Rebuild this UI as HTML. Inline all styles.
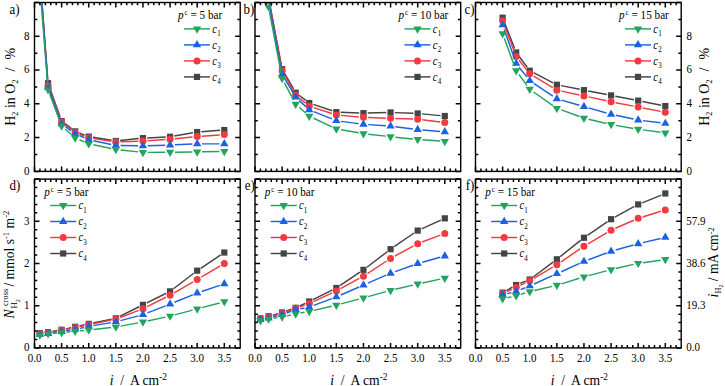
<!DOCTYPE html>
<html><head><meta charset="utf-8"><style>
html,body{margin:0;padding:0;background:#fff;}
body{width:725px;height:386px;overflow:hidden;}
svg{display:block;font-family:"Liberation Serif", serif;}
</style></head><body>
<svg width="725" height="386" viewBox="0 0 725 386">
<rect width="725" height="386" fill="#fff"/>
<clipPath id="c00"><rect x="34.5" y="2.5" width="205.7" height="168.9"/></clipPath>
<g clip-path="url(#c00)">
<path d="M40.25 -20.24L47.73 78.95M49.51 87.28L60.16 117.02M65.04 123.67L71.75 128.77M79.18 132.92L84.72 135.06M92.97 137.29L111.6 140.31M120.12 140.55L138.68 138.58M147.25 137.91L165.78 136.99M174.31 136.04L192.95 132.79M201.48 131.73L220.02 130.34" stroke="#444444" stroke-width="1.45" fill="none"/>
<rect x="36.82" y="-27.62" width="6.2" height="6.2" fill="#444444"/>
<rect x="44.96" y="80.13" width="6.2" height="6.2" fill="#444444"/>
<rect x="58.51" y="117.97" width="6.2" height="6.2" fill="#444444"/>
<rect x="72.07" y="128.27" width="6.2" height="6.2" fill="#444444"/>
<rect x="85.63" y="133.51" width="6.2" height="6.2" fill="#444444"/>
<rect x="112.75" y="137.9" width="6.2" height="6.2" fill="#444444"/>
<rect x="139.86" y="135.03" width="6.2" height="6.2" fill="#444444"/>
<rect x="166.97" y="133.68" width="6.2" height="6.2" fill="#444444"/>
<rect x="194.09" y="128.95" width="6.2" height="6.2" fill="#444444"/>
<rect x="221.2" y="126.92" width="6.2" height="6.2" fill="#444444"/>
<path d="M40.27 -19.84L47.71 80.91M49.69 90L59.98 117.68M65.33 124.95L71.45 129.68M79.54 134.29L84.36 136.22M93.38 138.65L111.2 141.32M120.54 141.84L138.26 141.17M147.65 140.68L165.39 139.46M174.75 138.7L192.51 137.04M201.88 136.26L219.62 134.93" stroke="#f23a40" stroke-width="1.45" fill="none"/>
<circle cx="39.92" cy="-24.52" r="3.5" fill="#f23a40"/>
<circle cx="48.06" cy="85.6" r="3.5" fill="#f23a40"/>
<circle cx="61.61" cy="122.08" r="3.5" fill="#f23a40"/>
<circle cx="75.17" cy="132.55" r="3.5" fill="#f23a40"/>
<circle cx="88.73" cy="137.96" r="3.5" fill="#f23a40"/>
<circle cx="115.84" cy="142.01" r="3.5" fill="#f23a40"/>
<circle cx="142.96" cy="141" r="3.5" fill="#f23a40"/>
<circle cx="170.07" cy="139.14" r="3.5" fill="#f23a40"/>
<circle cx="197.19" cy="136.61" r="3.5" fill="#f23a40"/>
<circle cx="224.3" cy="134.58" r="3.5" fill="#f23a40"/>
<path d="M40.27 -19.24L47.71 82.49M49.72 91.78L59.95 119.43M65.51 126.74L71.28 130.92M79.55 135.69L84.35 137.84M93.43 140.78L111.14 144.42M120.64 145.47L138.16 145.8M147.76 145.74L165.28 145.19M174.87 144.84L192.39 144.07M201.99 143.86L219.5 143.86" stroke="#1a62e2" stroke-width="1.45" fill="none"/>
<polygon points="39.92,-28.82 35.77,-21.62 44.08,-21.62" fill="#1a62e2"/>
<polygon points="48.06,82.48 43.9,89.68 52.21,89.68" fill="#1a62e2"/>
<polygon points="61.61,119.13 57.46,126.33 65.77,126.33" fill="#1a62e2"/>
<polygon points="75.17,128.93 71.02,136.13 79.33,136.13" fill="#1a62e2"/>
<polygon points="88.73,135.01 84.57,142.21 92.89,142.21" fill="#1a62e2"/>
<polygon points="115.84,140.58 111.69,147.78 120,147.78" fill="#1a62e2"/>
<polygon points="142.96,141.09 138.8,148.29 147.12,148.29" fill="#1a62e2"/>
<polygon points="170.07,140.24 165.92,147.44 174.23,147.44" fill="#1a62e2"/>
<polygon points="197.19,139.06 193.03,146.26 201.35,146.26" fill="#1a62e2"/>
<polygon points="224.3,139.06 220.15,146.26 228.46,146.26" fill="#1a62e2"/>
<path d="M40.3 -8.52L47.68 84.94M49.74 94.22L59.93 121.38M65.21 129.05L71.58 134.68M79.57 139.78L84.33 141.86M93.43 144.77L111.15 148.52M120.62 150.02L138.19 151.88M147.76 152.36L165.28 152.25M174.87 152.16L192.39 151.94M201.99 151.79L219.51 151.47" stroke="#22a45e" stroke-width="1.45" fill="none"/>
<polygon points="39.92,-8.5 35.77,-15.7 44.08,-15.7" fill="#22a45e"/>
<polygon points="48.06,94.53 43.9,87.33 52.21,87.33" fill="#22a45e"/>
<polygon points="61.61,130.67 57.46,123.47 65.77,123.47" fill="#22a45e"/>
<polygon points="75.17,142.66 71.02,135.46 79.33,135.46" fill="#22a45e"/>
<polygon points="88.73,148.58 84.57,141.38 92.89,141.38" fill="#22a45e"/>
<polygon points="115.84,154.32 111.69,147.12 120,147.12" fill="#22a45e"/>
<polygon points="142.96,157.19 138.8,149.99 147.12,149.99" fill="#22a45e"/>
<polygon points="170.07,157.02 165.92,149.82 174.23,149.82" fill="#22a45e"/>
<polygon points="197.19,156.68 193.03,149.48 201.35,149.48" fill="#22a45e"/>
<polygon points="224.3,156.18 220.15,148.98 228.46,148.98" fill="#22a45e"/>
</g>
<path d="M34.5 171.4v-5M34.5 2.5v5M39.92 171.4v-2.8M39.92 2.5v2.8M45.35 171.4v-2.8M45.35 2.5v2.8M50.77 171.4v-2.8M50.77 2.5v2.8M56.19 171.4v-2.8M56.19 2.5v2.8M61.61 171.4v-5M61.61 2.5v5M67.04 171.4v-2.8M67.04 2.5v2.8M72.46 171.4v-2.8M72.46 2.5v2.8M77.88 171.4v-2.8M77.88 2.5v2.8M83.31 171.4v-2.8M83.31 2.5v2.8M88.73 171.4v-5M88.73 2.5v5M94.15 171.4v-2.8M94.15 2.5v2.8M99.58 171.4v-2.8M99.58 2.5v2.8M105 171.4v-2.8M105 2.5v2.8M110.42 171.4v-2.8M110.42 2.5v2.8M115.84 171.4v-5M115.84 2.5v5M121.27 171.4v-2.8M121.27 2.5v2.8M126.69 171.4v-2.8M126.69 2.5v2.8M132.11 171.4v-2.8M132.11 2.5v2.8M137.54 171.4v-2.8M137.54 2.5v2.8M142.96 171.4v-5M142.96 2.5v5M148.38 171.4v-2.8M148.38 2.5v2.8M153.81 171.4v-2.8M153.81 2.5v2.8M159.23 171.4v-2.8M159.23 2.5v2.8M164.65 171.4v-2.8M164.65 2.5v2.8M170.07 171.4v-5M170.07 2.5v5M175.5 171.4v-2.8M175.5 2.5v2.8M180.92 171.4v-2.8M180.92 2.5v2.8M186.34 171.4v-2.8M186.34 2.5v2.8M191.77 171.4v-2.8M191.77 2.5v2.8M197.19 171.4v-5M197.19 2.5v5M202.61 171.4v-2.8M202.61 2.5v2.8M208.04 171.4v-2.8M208.04 2.5v2.8M213.46 171.4v-2.8M213.46 2.5v2.8M218.88 171.4v-2.8M218.88 2.5v2.8M224.3 171.4v-5M224.3 2.5v5M229.73 171.4v-2.8M229.73 2.5v2.8M235.15 171.4v-2.8M235.15 2.5v2.8M34.5 171.4h5M240.2 171.4h-5M34.5 154.51h2.8M240.2 154.51h-2.8M34.5 137.62h5M240.2 137.62h-5M34.5 120.73h2.8M240.2 120.73h-2.8M34.5 103.84h5M240.2 103.84h-5M34.5 86.95h2.8M240.2 86.95h-2.8M34.5 70.06h5M240.2 70.06h-5M34.5 53.17h2.8M240.2 53.17h-2.8M34.5 36.28h5M240.2 36.28h-5M34.5 19.39h2.8M240.2 19.39h-2.8M34.5 2.5h5M240.2 2.5h-5" stroke="#000" stroke-width="1.5" fill="none"/>
<rect x="34.5" y="2.5" width="205.7" height="168.9" stroke="#000" stroke-width="1.4" fill="none"/>
<text transform="translate(178 18.9) scale(1 1.12)" font-size="11.2"><tspan font-style="italic">p</tspan><tspan dx="1.0" dy="-3.3" font-size="7">c</tspan><tspan dy="3.3"> = 5 bar</tspan></text>
<path d="M184 28.9h26" stroke="#22a45e" stroke-width="1.45"/>
<polygon points="197,33.7 192.84,26.5 201.16,26.5" fill="#22a45e"/>
<text transform="translate(212.2 32.5) scale(1 1.12)" font-size="10.5"><tspan font-style="italic">c</tspan><tspan dx="0.3" dy="3.1" font-size="7">1</tspan></text>
<path d="M184 44.9h26" stroke="#1a62e2" stroke-width="1.45"/>
<polygon points="197,40.1 192.84,47.3 201.16,47.3" fill="#1a62e2"/>
<text transform="translate(212.2 48.5) scale(1 1.12)" font-size="10.5"><tspan font-style="italic">c</tspan><tspan dx="0.3" dy="3.1" font-size="7">2</tspan></text>
<path d="M184 60.9h26" stroke="#f23a40" stroke-width="1.45"/>
<circle cx="197" cy="60.9" r="3.5" fill="#f23a40"/>
<text transform="translate(212.2 64.5) scale(1 1.12)" font-size="10.5"><tspan font-style="italic">c</tspan><tspan dx="0.3" dy="3.1" font-size="7">3</tspan></text>
<path d="M184 76.9h26" stroke="#444444" stroke-width="1.45"/>
<rect x="193.9" y="73.8" width="6.2" height="6.2" fill="#444444"/>
<text transform="translate(212.2 80.5) scale(1 1.12)" font-size="10.5"><tspan font-style="italic">c</tspan><tspan dx="0.3" dy="3.1" font-size="7">4</tspan></text>
<clipPath id="c01"><rect x="255" y="2.5" width="205.7" height="168.9"/></clipPath>
<g clip-path="url(#c01)">
<path d="M269.36 1.66L281.32 64.99M284.27 72.94L293.52 88.97M299.1 95.29L305.81 100.39M313.31 104.37L332.27 110.75M340.64 112.28L359.16 112.97M367.76 113.02L386.28 112.56M394.87 112.61L413.39 113.31M421.97 113.87L440.52 115.6" stroke="#444444" stroke-width="1.45" fill="none"/>
<rect x="265.46" y="-5.67" width="6.2" height="6.2" fill="#444444"/>
<rect x="279.01" y="66.12" width="6.2" height="6.2" fill="#444444"/>
<rect x="292.57" y="89.59" width="6.2" height="6.2" fill="#444444"/>
<rect x="306.13" y="99.9" width="6.2" height="6.2" fill="#444444"/>
<rect x="333.25" y="109.02" width="6.2" height="6.2" fill="#444444"/>
<rect x="360.36" y="110.03" width="6.2" height="6.2" fill="#444444"/>
<rect x="387.47" y="109.35" width="6.2" height="6.2" fill="#444444"/>
<rect x="414.59" y="110.37" width="6.2" height="6.2" fill="#444444"/>
<rect x="441.7" y="112.9" width="6.2" height="6.2" fill="#444444"/>
<path d="M269.43 3.74L281.24 66.12M284.42 74.83L293.37 90.79M299.28 97.9L305.62 103.19M313.7 107.65L331.87 113.54M341.03 115.4L358.78 116.94M368.16 117.53L385.88 118.19M395.27 118.51L412.99 119.06M422.35 119.79L440.14 122.01" stroke="#f23a40" stroke-width="1.45" fill="none"/>
<circle cx="268.56" cy="-0.88" r="3.5" fill="#f23a40"/>
<circle cx="282.12" cy="70.74" r="3.5" fill="#f23a40"/>
<circle cx="295.67" cy="94.89" r="3.5" fill="#f23a40"/>
<circle cx="309.23" cy="106.2" r="3.5" fill="#f23a40"/>
<circle cx="336.35" cy="114.99" r="3.5" fill="#f23a40"/>
<circle cx="363.46" cy="117.35" r="3.5" fill="#f23a40"/>
<circle cx="390.57" cy="118.37" r="3.5" fill="#f23a40"/>
<circle cx="417.69" cy="119.21" r="3.5" fill="#f23a40"/>
<circle cx="444.8" cy="122.59" r="3.5" fill="#f23a40"/>
<path d="M269.43 6.03L281.24 69.56M284.57 78.4L293.22 92.95M299.16 100.38L305.74 106.61M313.69 111.69L331.89 118.95M341.1 121.35L358.7 123.65M368.25 124.6L385.79 125.8M395.34 126.72L412.93 128.91M422.47 129.92L440.02 131.45" stroke="#1a62e2" stroke-width="1.45" fill="none"/>
<polygon points="268.56,-3.49 264.4,3.71 272.71,3.71" fill="#1a62e2"/>
<polygon points="282.12,69.48 277.96,76.68 286.27,76.68" fill="#1a62e2"/>
<polygon points="295.67,92.28 291.52,99.48 299.83,99.48" fill="#1a62e2"/>
<polygon points="309.23,105.11 305.07,112.31 313.39,112.31" fill="#1a62e2"/>
<polygon points="336.35,115.92 332.19,123.12 340.5,123.12" fill="#1a62e2"/>
<polygon points="363.46,119.47 359.3,126.67 367.62,126.67" fill="#1a62e2"/>
<polygon points="390.57,121.33 386.42,128.53 394.73,128.53" fill="#1a62e2"/>
<polygon points="417.69,124.71 413.53,131.91 421.85,131.91" fill="#1a62e2"/>
<polygon points="444.8,127.07 440.65,134.27 448.96,134.27" fill="#1a62e2"/>
<path d="M269.45 11.68L281.22 73.7M284.36 82.66L293.43 99.84M299.25 107.29L305.66 113.04M313.58 118.28L332 126.88M341.07 129.74L358.73 132.82M368.23 134.18L385.8 136.15M395.35 137.16L412.91 138.91M422.48 139.74L440.02 141.05" stroke="#22a45e" stroke-width="1.45" fill="none"/>
<polygon points="268.56,11.77 264.4,4.57 272.71,4.57" fill="#22a45e"/>
<polygon points="282.12,83.21 277.96,76.01 286.27,76.01" fill="#22a45e"/>
<polygon points="295.67,108.88 291.52,101.68 299.83,101.68" fill="#22a45e"/>
<polygon points="309.23,121.05 305.07,113.85 313.39,113.85" fill="#22a45e"/>
<polygon points="336.35,133.71 332.19,126.51 340.5,126.51" fill="#22a45e"/>
<polygon points="363.46,138.44 359.3,131.24 367.62,131.24" fill="#22a45e"/>
<polygon points="390.57,141.48 386.42,134.28 394.73,134.28" fill="#22a45e"/>
<polygon points="417.69,144.18 413.53,136.98 421.85,136.98" fill="#22a45e"/>
<polygon points="444.8,146.21 440.65,139.01 448.96,139.01" fill="#22a45e"/>
</g>
<path d="M255 171.4v-5M255 2.5v5M260.42 171.4v-2.8M260.42 2.5v2.8M265.85 171.4v-2.8M265.85 2.5v2.8M271.27 171.4v-2.8M271.27 2.5v2.8M276.69 171.4v-2.8M276.69 2.5v2.8M282.12 171.4v-5M282.12 2.5v5M287.54 171.4v-2.8M287.54 2.5v2.8M292.96 171.4v-2.8M292.96 2.5v2.8M298.38 171.4v-2.8M298.38 2.5v2.8M303.81 171.4v-2.8M303.81 2.5v2.8M309.23 171.4v-5M309.23 2.5v5M314.65 171.4v-2.8M314.65 2.5v2.8M320.08 171.4v-2.8M320.08 2.5v2.8M325.5 171.4v-2.8M325.5 2.5v2.8M330.92 171.4v-2.8M330.92 2.5v2.8M336.35 171.4v-5M336.35 2.5v5M341.77 171.4v-2.8M341.77 2.5v2.8M347.19 171.4v-2.8M347.19 2.5v2.8M352.61 171.4v-2.8M352.61 2.5v2.8M358.04 171.4v-2.8M358.04 2.5v2.8M363.46 171.4v-5M363.46 2.5v5M368.88 171.4v-2.8M368.88 2.5v2.8M374.31 171.4v-2.8M374.31 2.5v2.8M379.73 171.4v-2.8M379.73 2.5v2.8M385.15 171.4v-2.8M385.15 2.5v2.8M390.57 171.4v-5M390.57 2.5v5M396 171.4v-2.8M396 2.5v2.8M401.42 171.4v-2.8M401.42 2.5v2.8M406.84 171.4v-2.8M406.84 2.5v2.8M412.27 171.4v-2.8M412.27 2.5v2.8M417.69 171.4v-5M417.69 2.5v5M423.11 171.4v-2.8M423.11 2.5v2.8M428.54 171.4v-2.8M428.54 2.5v2.8M433.96 171.4v-2.8M433.96 2.5v2.8M439.38 171.4v-2.8M439.38 2.5v2.8M444.8 171.4v-5M444.8 2.5v5M450.23 171.4v-2.8M450.23 2.5v2.8M455.65 171.4v-2.8M455.65 2.5v2.8M255 171.4h5M460.7 171.4h-5M255 154.51h2.8M460.7 154.51h-2.8M255 137.62h5M460.7 137.62h-5M255 120.73h2.8M460.7 120.73h-2.8M255 103.84h5M460.7 103.84h-5M255 86.95h2.8M460.7 86.95h-2.8M255 70.06h5M460.7 70.06h-5M255 53.17h2.8M460.7 53.17h-2.8M255 36.28h5M460.7 36.28h-5M255 19.39h2.8M460.7 19.39h-2.8M255 2.5h5M460.7 2.5h-5" stroke="#000" stroke-width="1.5" fill="none"/>
<rect x="255" y="2.5" width="205.7" height="168.9" stroke="#000" stroke-width="1.4" fill="none"/>
<text transform="translate(398.5 18.9) scale(1 1.12)" font-size="11.2"><tspan font-style="italic">p</tspan><tspan dx="1.0" dy="-3.3" font-size="7">c</tspan><tspan dy="3.3"> = 10 bar</tspan></text>
<path d="M404.5 28.9h26" stroke="#22a45e" stroke-width="1.45"/>
<polygon points="417.5,33.7 413.34,26.5 421.66,26.5" fill="#22a45e"/>
<text transform="translate(432.7 32.5) scale(1 1.12)" font-size="10.5"><tspan font-style="italic">c</tspan><tspan dx="0.3" dy="3.1" font-size="7">1</tspan></text>
<path d="M404.5 44.9h26" stroke="#1a62e2" stroke-width="1.45"/>
<polygon points="417.5,40.1 413.34,47.3 421.66,47.3" fill="#1a62e2"/>
<text transform="translate(432.7 48.5) scale(1 1.12)" font-size="10.5"><tspan font-style="italic">c</tspan><tspan dx="0.3" dy="3.1" font-size="7">2</tspan></text>
<path d="M404.5 60.9h26" stroke="#f23a40" stroke-width="1.45"/>
<circle cx="417.5" cy="60.9" r="3.5" fill="#f23a40"/>
<text transform="translate(432.7 64.5) scale(1 1.12)" font-size="10.5"><tspan font-style="italic">c</tspan><tspan dx="0.3" dy="3.1" font-size="7">3</tspan></text>
<path d="M404.5 76.9h26" stroke="#444444" stroke-width="1.45"/>
<rect x="414.4" y="73.8" width="6.2" height="6.2" fill="#444444"/>
<text transform="translate(432.7 80.5) scale(1 1.12)" font-size="10.5"><tspan font-style="italic">c</tspan><tspan dx="0.3" dy="3.1" font-size="7">4</tspan></text>
<clipPath id="c02"><rect x="475.5" y="2.5" width="205.7" height="168.9"/></clipPath>
<g clip-path="url(#c02)">
<path d="M504.18 21.71L514.61 48.49M518.74 55.95L527.16 67.28M533.55 72.71L553.03 82.78M561.06 85.59L579.74 89.32M588.18 90.97L606.85 94.58M615.3 96.21L633.97 99.82M642.41 101.47L661.09 105.2" stroke="#444444" stroke-width="1.45" fill="none"/>
<rect x="499.51" y="14.6" width="6.2" height="6.2" fill="#444444"/>
<rect x="513.07" y="49.39" width="6.2" height="6.2" fill="#444444"/>
<rect x="526.63" y="67.64" width="6.2" height="6.2" fill="#444444"/>
<rect x="553.75" y="81.65" width="6.2" height="6.2" fill="#444444"/>
<rect x="580.86" y="87.06" width="6.2" height="6.2" fill="#444444"/>
<rect x="607.98" y="92.3" width="6.2" height="6.2" fill="#444444"/>
<rect x="635.09" y="97.53" width="6.2" height="6.2" fill="#444444"/>
<rect x="662.2" y="102.94" width="6.2" height="6.2" fill="#444444"/>
<path d="M504.28 25.14L514.51 52.15M519.08 60.24L526.82 70.08M533.75 76.21L552.82 87.73M561.44 91.13L579.36 94.93M588.55 96.9L606.48 100.81M615.69 102.7L633.58 106.16M642.8 107.94L660.69 111.39" stroke="#f23a40" stroke-width="1.45" fill="none"/>
<circle cx="502.62" cy="20.74" r="3.5" fill="#f23a40"/>
<circle cx="516.17" cy="56.55" r="3.5" fill="#f23a40"/>
<circle cx="529.73" cy="73.78" r="3.5" fill="#f23a40"/>
<circle cx="556.85" cy="90.16" r="3.5" fill="#f23a40"/>
<circle cx="583.96" cy="95.9" r="3.5" fill="#f23a40"/>
<circle cx="611.08" cy="101.81" r="3.5" fill="#f23a40"/>
<circle cx="638.19" cy="107.05" r="3.5" fill="#f23a40"/>
<circle cx="665.3" cy="112.29" r="3.5" fill="#f23a40"/>
<path d="M504.21 29.48L514.58 58.94M519.14 67.24L526.76 76.92M533.72 83.36L552.85 96.1M561.46 100.09L579.35 105.21M588.57 107.86L606.46 112.98M615.77 115.3L633.49 119.05M642.95 120.64L660.54 122.83" stroke="#1a62e2" stroke-width="1.45" fill="none"/>
<polygon points="502.62,20.16 498.46,27.36 506.77,27.36" fill="#1a62e2"/>
<polygon points="516.17,58.67 512.02,65.87 520.33,65.87" fill="#1a62e2"/>
<polygon points="529.73,75.89 525.57,83.09 533.89,83.09" fill="#1a62e2"/>
<polygon points="556.85,93.97 552.69,101.17 561,101.17" fill="#1a62e2"/>
<polygon points="583.96,101.74 579.8,108.94 588.12,108.94" fill="#1a62e2"/>
<polygon points="611.08,109.51 606.92,116.71 615.23,116.71" fill="#1a62e2"/>
<polygon points="638.19,115.25 634.03,122.45 642.35,122.45" fill="#1a62e2"/>
<polygon points="665.3,118.63 661.15,125.83 669.46,125.83" fill="#1a62e2"/>
<path d="M504.27 38.16L514.52 66.14M519 74.52L526.9 85.34M533.66 91.98L552.92 105.54M561.36 109.94L579.45 116.47M588.63 119.21L606.4 123.42M615.8 125.35L633.46 128.43M642.95 129.9L660.55 132.31" stroke="#22a45e" stroke-width="1.45" fill="none"/>
<polygon points="502.62,38.45 498.46,31.25 506.77,31.25" fill="#22a45e"/>
<polygon points="516.17,75.44 512.02,68.24 520.33,68.24" fill="#22a45e"/>
<polygon points="529.73,94.02 525.57,86.82 533.89,86.82" fill="#22a45e"/>
<polygon points="556.85,113.11 552.69,105.91 561,105.91" fill="#22a45e"/>
<polygon points="583.96,122.9 579.8,115.7 588.12,115.7" fill="#22a45e"/>
<polygon points="611.08,129.32 606.92,122.12 615.23,122.12" fill="#22a45e"/>
<polygon points="638.19,134.05 634.03,126.85 642.35,126.85" fill="#22a45e"/>
<polygon points="665.3,137.77 661.15,130.57 669.46,130.57" fill="#22a45e"/>
</g>
<path d="M475.5 171.4v-5M475.5 2.5v5M480.92 171.4v-2.8M480.92 2.5v2.8M486.35 171.4v-2.8M486.35 2.5v2.8M491.77 171.4v-2.8M491.77 2.5v2.8M497.19 171.4v-2.8M497.19 2.5v2.8M502.62 171.4v-5M502.62 2.5v5M508.04 171.4v-2.8M508.04 2.5v2.8M513.46 171.4v-2.8M513.46 2.5v2.8M518.88 171.4v-2.8M518.88 2.5v2.8M524.31 171.4v-2.8M524.31 2.5v2.8M529.73 171.4v-5M529.73 2.5v5M535.15 171.4v-2.8M535.15 2.5v2.8M540.58 171.4v-2.8M540.58 2.5v2.8M546 171.4v-2.8M546 2.5v2.8M551.42 171.4v-2.8M551.42 2.5v2.8M556.85 171.4v-5M556.85 2.5v5M562.27 171.4v-2.8M562.27 2.5v2.8M567.69 171.4v-2.8M567.69 2.5v2.8M573.11 171.4v-2.8M573.11 2.5v2.8M578.54 171.4v-2.8M578.54 2.5v2.8M583.96 171.4v-5M583.96 2.5v5M589.38 171.4v-2.8M589.38 2.5v2.8M594.81 171.4v-2.8M594.81 2.5v2.8M600.23 171.4v-2.8M600.23 2.5v2.8M605.65 171.4v-2.8M605.65 2.5v2.8M611.08 171.4v-5M611.08 2.5v5M616.5 171.4v-2.8M616.5 2.5v2.8M621.92 171.4v-2.8M621.92 2.5v2.8M627.34 171.4v-2.8M627.34 2.5v2.8M632.77 171.4v-2.8M632.77 2.5v2.8M638.19 171.4v-5M638.19 2.5v5M643.61 171.4v-2.8M643.61 2.5v2.8M649.04 171.4v-2.8M649.04 2.5v2.8M654.46 171.4v-2.8M654.46 2.5v2.8M659.88 171.4v-2.8M659.88 2.5v2.8M665.3 171.4v-5M665.3 2.5v5M670.73 171.4v-2.8M670.73 2.5v2.8M676.15 171.4v-2.8M676.15 2.5v2.8M475.5 171.4h5M681.2 171.4h-5M475.5 154.51h2.8M681.2 154.51h-2.8M475.5 137.62h5M681.2 137.62h-5M475.5 120.73h2.8M681.2 120.73h-2.8M475.5 103.84h5M681.2 103.84h-5M475.5 86.95h2.8M681.2 86.95h-2.8M475.5 70.06h5M681.2 70.06h-5M475.5 53.17h2.8M681.2 53.17h-2.8M475.5 36.28h5M681.2 36.28h-5M475.5 19.39h2.8M681.2 19.39h-2.8M475.5 2.5h5M681.2 2.5h-5" stroke="#000" stroke-width="1.5" fill="none"/>
<rect x="475.5" y="2.5" width="205.7" height="168.9" stroke="#000" stroke-width="1.4" fill="none"/>
<text transform="translate(619 18.9) scale(1 1.12)" font-size="11.2"><tspan font-style="italic">p</tspan><tspan dx="1.0" dy="-3.3" font-size="7">c</tspan><tspan dy="3.3"> = 15 bar</tspan></text>
<path d="M625 28.9h26" stroke="#22a45e" stroke-width="1.45"/>
<polygon points="638,33.7 633.84,26.5 642.16,26.5" fill="#22a45e"/>
<text transform="translate(653.2 32.5) scale(1 1.12)" font-size="10.5"><tspan font-style="italic">c</tspan><tspan dx="0.3" dy="3.1" font-size="7">1</tspan></text>
<path d="M625 44.9h26" stroke="#1a62e2" stroke-width="1.45"/>
<polygon points="638,40.1 633.84,47.3 642.16,47.3" fill="#1a62e2"/>
<text transform="translate(653.2 48.5) scale(1 1.12)" font-size="10.5"><tspan font-style="italic">c</tspan><tspan dx="0.3" dy="3.1" font-size="7">2</tspan></text>
<path d="M625 60.9h26" stroke="#f23a40" stroke-width="1.45"/>
<circle cx="638" cy="60.9" r="3.5" fill="#f23a40"/>
<text transform="translate(653.2 64.5) scale(1 1.12)" font-size="10.5"><tspan font-style="italic">c</tspan><tspan dx="0.3" dy="3.1" font-size="7">3</tspan></text>
<path d="M625 76.9h26" stroke="#444444" stroke-width="1.45"/>
<rect x="634.9" y="73.8" width="6.2" height="6.2" fill="#444444"/>
<text transform="translate(653.2 80.5) scale(1 1.12)" font-size="10.5"><tspan font-style="italic">c</tspan><tspan dx="0.3" dy="3.1" font-size="7">4</tspan></text>
<clipPath id="c10"><rect x="34.5" y="179.1" width="205.7" height="168.8"/></clipPath>
<g clip-path="url(#c10)">
<path d="M52.28 331.5L57.39 330.54M65.82 328.84L70.97 327.72M79.37 325.88L84.53 324.76M92.94 322.99L111.63 319.21M119.69 316.44L139.11 306.77M146.81 302.94L166.23 293.27M173.49 288.74L193.77 273.28M200.76 268.28L220.73 254.92" stroke="#444444" stroke-width="1.45" fill="none"/>
<rect x="36.82" y="330.03" width="6.2" height="6.2" fill="#444444"/>
<rect x="44.96" y="329.19" width="6.2" height="6.2" fill="#444444"/>
<rect x="58.51" y="326.65" width="6.2" height="6.2" fill="#444444"/>
<rect x="72.07" y="323.7" width="6.2" height="6.2" fill="#444444"/>
<rect x="85.63" y="320.75" width="6.2" height="6.2" fill="#444444"/>
<rect x="112.75" y="315.26" width="6.2" height="6.2" fill="#444444"/>
<rect x="139.86" y="301.76" width="6.2" height="6.2" fill="#444444"/>
<rect x="166.97" y="288.25" width="6.2" height="6.2" fill="#444444"/>
<rect x="194.09" y="267.57" width="6.2" height="6.2" fill="#444444"/>
<rect x="221.2" y="249.43" width="6.2" height="6.2" fill="#444444"/>
<path d="M52.68 331.85L56.99 331.04M66.24 329.31L70.55 328.51M79.76 326.64L84.14 325.69M93.34 323.76L111.24 320.14M120.23 317.5L138.58 310.36M147.17 306.56L165.87 297.25M174.15 292.8L193.12 281.88M201.24 277.14L220.26 265.89" stroke="#f23a40" stroke-width="1.45" fill="none"/>
<circle cx="39.92" cy="333.55" r="3.5" fill="#f23a40"/>
<circle cx="48.06" cy="332.71" r="3.5" fill="#f23a40"/>
<circle cx="61.61" cy="330.18" r="3.5" fill="#f23a40"/>
<circle cx="75.17" cy="327.64" r="3.5" fill="#f23a40"/>
<circle cx="88.73" cy="324.69" r="3.5" fill="#f23a40"/>
<circle cx="115.84" cy="319.2" r="3.5" fill="#f23a40"/>
<circle cx="142.96" cy="308.65" r="3.5" fill="#f23a40"/>
<circle cx="170.07" cy="295.15" r="3.5" fill="#f23a40"/>
<circle cx="197.19" cy="279.54" r="3.5" fill="#f23a40"/>
<circle cx="224.3" cy="263.5" r="3.5" fill="#f23a40"/>
<path d="M52.8 332.89L56.87 332.26M66.36 330.78L70.43 330.15M79.86 328.39L84.04 327.48M93.46 325.65L111.11 322.62M120.49 320.59L138.32 315.87M147.43 312.9L165.6 305.83M174.52 302.29L192.74 294.92M201.73 291.56L219.76 285.39" stroke="#1a62e2" stroke-width="1.45" fill="none"/>
<polygon points="39.92,329.67 35.77,336.87 44.08,336.87" fill="#1a62e2"/>
<polygon points="48.06,328.83 43.9,336.03 52.21,336.03" fill="#1a62e2"/>
<polygon points="61.61,326.72 57.46,333.92 65.77,333.92" fill="#1a62e2"/>
<polygon points="75.17,324.61 71.02,331.81 79.33,331.81" fill="#1a62e2"/>
<polygon points="88.73,321.66 84.57,328.86 92.89,328.86" fill="#1a62e2"/>
<polygon points="115.84,317.01 111.69,324.21 120,324.21" fill="#1a62e2"/>
<polygon points="142.96,309.84 138.8,317.04 147.12,317.04" fill="#1a62e2"/>
<polygon points="170.07,299.29 165.92,306.49 174.23,306.49" fill="#1a62e2"/>
<polygon points="197.19,288.32 193.03,295.52 201.35,295.52" fill="#1a62e2"/>
<polygon points="224.3,279.03 220.15,286.23 228.46,286.23" fill="#1a62e2"/>
<path d="M52.84 333.35L56.84 332.98M66.39 332.08L70.39 331.71M79.95 330.82L83.95 330.44M93.5 329.48L111.07 327.56M120.56 326.16L138.24 322.86M147.65 320.96L165.39 317.09M174.72 314.84L192.55 310.13M201.83 307.67L219.66 302.95" stroke="#22a45e" stroke-width="1.45" fill="none"/>
<polygon points="39.92,339.86 35.77,332.66 44.08,332.66" fill="#22a45e"/>
<polygon points="48.06,338.6 43.9,331.4 52.21,331.4" fill="#22a45e"/>
<polygon points="61.61,337.33 57.46,330.13 65.77,330.13" fill="#22a45e"/>
<polygon points="75.17,336.06 71.02,328.86 79.33,328.86" fill="#22a45e"/>
<polygon points="88.73,334.8 84.57,327.6 92.89,327.6" fill="#22a45e"/>
<polygon points="115.84,331.84 111.69,324.64 120,324.64" fill="#22a45e"/>
<polygon points="142.96,326.78 138.8,319.58 147.12,319.58" fill="#22a45e"/>
<polygon points="170.07,320.87 165.92,313.67 174.23,313.67" fill="#22a45e"/>
<polygon points="197.19,313.7 193.03,306.5 201.35,306.5" fill="#22a45e"/>
<polygon points="224.3,306.52 220.15,299.32 228.46,299.32" fill="#22a45e"/>
</g>
<path d="M34.5 347.9v-5M34.5 179.1v5M39.92 347.9v-2.8M39.92 179.1v2.8M45.35 347.9v-2.8M45.35 179.1v2.8M50.77 347.9v-2.8M50.77 179.1v2.8M56.19 347.9v-2.8M56.19 179.1v2.8M61.61 347.9v-5M61.61 179.1v5M67.04 347.9v-2.8M67.04 179.1v2.8M72.46 347.9v-2.8M72.46 179.1v2.8M77.88 347.9v-2.8M77.88 179.1v2.8M83.31 347.9v-2.8M83.31 179.1v2.8M88.73 347.9v-5M88.73 179.1v5M94.15 347.9v-2.8M94.15 179.1v2.8M99.58 347.9v-2.8M99.58 179.1v2.8M105 347.9v-2.8M105 179.1v2.8M110.42 347.9v-2.8M110.42 179.1v2.8M115.84 347.9v-5M115.84 179.1v5M121.27 347.9v-2.8M121.27 179.1v2.8M126.69 347.9v-2.8M126.69 179.1v2.8M132.11 347.9v-2.8M132.11 179.1v2.8M137.54 347.9v-2.8M137.54 179.1v2.8M142.96 347.9v-5M142.96 179.1v5M148.38 347.9v-2.8M148.38 179.1v2.8M153.81 347.9v-2.8M153.81 179.1v2.8M159.23 347.9v-2.8M159.23 179.1v2.8M164.65 347.9v-2.8M164.65 179.1v2.8M170.07 347.9v-5M170.07 179.1v5M175.5 347.9v-2.8M175.5 179.1v2.8M180.92 347.9v-2.8M180.92 179.1v2.8M186.34 347.9v-2.8M186.34 179.1v2.8M191.77 347.9v-2.8M191.77 179.1v2.8M197.19 347.9v-5M197.19 179.1v5M202.61 347.9v-2.8M202.61 179.1v2.8M208.04 347.9v-2.8M208.04 179.1v2.8M213.46 347.9v-2.8M213.46 179.1v2.8M218.88 347.9v-2.8M218.88 179.1v2.8M224.3 347.9v-5M224.3 179.1v5M229.73 347.9v-2.8M229.73 179.1v2.8M235.15 347.9v-2.8M235.15 179.1v2.8M34.5 347.9h5M240.2 347.9h-5M34.5 339.46h2.8M240.2 339.46h-2.8M34.5 331.02h2.8M240.2 331.02h-2.8M34.5 322.58h2.8M240.2 322.58h-2.8M34.5 314.14h2.8M240.2 314.14h-2.8M34.5 305.7h5M240.2 305.7h-5M34.5 297.26h2.8M240.2 297.26h-2.8M34.5 288.82h2.8M240.2 288.82h-2.8M34.5 280.38h2.8M240.2 280.38h-2.8M34.5 271.94h2.8M240.2 271.94h-2.8M34.5 263.5h5M240.2 263.5h-5M34.5 255.06h2.8M240.2 255.06h-2.8M34.5 246.62h2.8M240.2 246.62h-2.8M34.5 238.18h2.8M240.2 238.18h-2.8M34.5 229.74h2.8M240.2 229.74h-2.8M34.5 221.3h5M240.2 221.3h-5M34.5 212.86h2.8M240.2 212.86h-2.8M34.5 204.42h2.8M240.2 204.42h-2.8M34.5 195.98h2.8M240.2 195.98h-2.8M34.5 187.54h2.8M240.2 187.54h-2.8M34.5 179.1h5M240.2 179.1h-5" stroke="#000" stroke-width="1.5" fill="none"/>
<rect x="34.5" y="179.1" width="205.7" height="168.8" stroke="#000" stroke-width="1.4" fill="none"/>
<text transform="translate(44.2 195.5) scale(1 1.12)" font-size="11.2"><tspan font-style="italic">p</tspan><tspan dx="1.0" dy="-3.3" font-size="7">c</tspan><tspan dy="3.3"> = 5 bar</tspan></text>
<path d="M50.2 205.5h26" stroke="#22a45e" stroke-width="1.45"/>
<polygon points="63.2,210.3 59.04,203.1 67.36,203.1" fill="#22a45e"/>
<text transform="translate(78.4 209.1) scale(1 1.12)" font-size="10.5"><tspan font-style="italic">c</tspan><tspan dx="0.3" dy="3.1" font-size="7">1</tspan></text>
<path d="M50.2 221.5h26" stroke="#1a62e2" stroke-width="1.45"/>
<polygon points="63.2,216.7 59.04,223.9 67.36,223.9" fill="#1a62e2"/>
<text transform="translate(78.4 225.1) scale(1 1.12)" font-size="10.5"><tspan font-style="italic">c</tspan><tspan dx="0.3" dy="3.1" font-size="7">2</tspan></text>
<path d="M50.2 237.5h26" stroke="#f23a40" stroke-width="1.45"/>
<circle cx="63.2" cy="237.5" r="3.5" fill="#f23a40"/>
<text transform="translate(78.4 241.1) scale(1 1.12)" font-size="10.5"><tspan font-style="italic">c</tspan><tspan dx="0.3" dy="3.1" font-size="7">3</tspan></text>
<path d="M50.2 253.5h26" stroke="#444444" stroke-width="1.45"/>
<rect x="60.1" y="250.4" width="6.2" height="6.2" fill="#444444"/>
<text transform="translate(78.4 257.1) scale(1 1.12)" font-size="10.5"><tspan font-style="italic">c</tspan><tspan dx="0.3" dy="3.1" font-size="7">4</tspan></text>
<clipPath id="c11"><rect x="255" y="179.1" width="205.7" height="168.8"/></clipPath>
<g clip-path="url(#c11)">
<path d="M272.7 315.09L277.97 313.61M286.18 311.06L291.6 309.2M299.57 305.99L305.33 303.3M313.08 299.56L332.5 289.89M339.92 285.58L359.89 272.22M366.88 267.22L387.16 251.76M394.12 246.72L414.14 233.01M421.61 228.82L440.89 220.11" stroke="#444444" stroke-width="1.45" fill="none"/>
<rect x="257.32" y="315.26" width="6.2" height="6.2" fill="#444444"/>
<rect x="265.46" y="313.15" width="6.2" height="6.2" fill="#444444"/>
<rect x="279.01" y="309.35" width="6.2" height="6.2" fill="#444444"/>
<rect x="292.57" y="304.71" width="6.2" height="6.2" fill="#444444"/>
<rect x="306.13" y="298.38" width="6.2" height="6.2" fill="#444444"/>
<rect x="333.25" y="284.88" width="6.2" height="6.2" fill="#444444"/>
<rect x="360.36" y="266.73" width="6.2" height="6.2" fill="#444444"/>
<rect x="387.47" y="246.05" width="6.2" height="6.2" fill="#444444"/>
<rect x="414.59" y="227.48" width="6.2" height="6.2" fill="#444444"/>
<rect x="441.7" y="215.25" width="6.2" height="6.2" fill="#444444"/>
<path d="M273.12 315.54L277.55 314.43M286.52 311.65L291.27 309.88M300.12 306.71L304.78 305.11M313.49 301.6L332.09 292.92M340.47 288.68L359.33 278.41M367.39 273.59L386.64 261.01M394.7 256.19L413.56 245.91M422.09 242.02L440.4 235.18" stroke="#f23a40" stroke-width="1.45" fill="none"/>
<circle cx="260.42" cy="318.78" r="3.5" fill="#f23a40"/>
<circle cx="268.56" cy="316.67" r="3.5" fill="#f23a40"/>
<circle cx="282.12" cy="313.3" r="3.5" fill="#f23a40"/>
<circle cx="295.67" cy="308.23" r="3.5" fill="#f23a40"/>
<circle cx="309.23" cy="303.59" r="3.5" fill="#f23a40"/>
<circle cx="336.35" cy="290.93" r="3.5" fill="#f23a40"/>
<circle cx="363.46" cy="276.16" r="3.5" fill="#f23a40"/>
<circle cx="390.57" cy="258.44" r="3.5" fill="#f23a40"/>
<circle cx="417.69" cy="243.67" r="3.5" fill="#f23a40"/>
<circle cx="444.8" cy="233.54" r="3.5" fill="#f23a40"/>
<path d="M273.22 316.86L277.46 315.8M286.61 312.96L291.18 311.26M300.39 308.69L304.51 307.93M313.73 305.36L331.85 298.6M340.75 295L359.06 287.02M367.86 283.18L386.17 275.2M395.09 271.67L413.17 265.2M422.31 262.28L440.18 257.28" stroke="#1a62e2" stroke-width="1.45" fill="none"/>
<polygon points="260.42,314.9 256.27,322.1 264.58,322.1" fill="#1a62e2"/>
<polygon points="268.56,313.22 264.4,320.42 272.71,320.42" fill="#1a62e2"/>
<polygon points="282.12,309.84 277.96,317.04 286.27,317.04" fill="#1a62e2"/>
<polygon points="295.67,304.78 291.52,311.98 299.83,311.98" fill="#1a62e2"/>
<polygon points="309.23,302.24 305.07,309.44 313.39,309.44" fill="#1a62e2"/>
<polygon points="336.35,292.12 332.19,299.32 340.5,299.32" fill="#1a62e2"/>
<polygon points="363.46,280.3 359.3,287.5 367.62,287.5" fill="#1a62e2"/>
<polygon points="390.57,268.48 386.42,275.68 394.73,275.68" fill="#1a62e2"/>
<polygon points="417.69,258.78 413.53,265.98 421.85,265.98" fill="#1a62e2"/>
<polygon points="444.8,251.18 440.65,258.38 448.96,258.38" fill="#1a62e2"/>
<path d="M273.3 318.29L277.37 317.65M286.8 315.89L290.98 314.98M300.39 313.08L304.51 312.31M313.9 310.34L331.67 306.19M340.99 303.87L358.82 299.15M368.08 296.63L385.95 291.62M395.25 289.24L413.02 285.09M422.38 282.98L440.12 279.11" stroke="#22a45e" stroke-width="1.45" fill="none"/>
<polygon points="260.42,325.51 256.27,318.31 264.58,318.31" fill="#22a45e"/>
<polygon points="268.56,323.83 264.4,316.63 272.71,316.63" fill="#22a45e"/>
<polygon points="282.12,321.72 277.96,314.52 286.27,314.52" fill="#22a45e"/>
<polygon points="295.67,318.76 291.52,311.56 299.83,311.56" fill="#22a45e"/>
<polygon points="309.23,316.23 305.07,309.03 313.39,309.03" fill="#22a45e"/>
<polygon points="336.35,309.9 332.19,302.7 340.5,302.7" fill="#22a45e"/>
<polygon points="363.46,302.73 359.3,295.53 367.62,295.53" fill="#22a45e"/>
<polygon points="390.57,295.13 386.42,287.93 394.73,287.93" fill="#22a45e"/>
<polygon points="417.69,288.8 413.53,281.6 421.85,281.6" fill="#22a45e"/>
<polygon points="444.8,282.89 440.65,275.69 448.96,275.69" fill="#22a45e"/>
</g>
<path d="M255 347.9v-5M255 179.1v5M260.42 347.9v-2.8M260.42 179.1v2.8M265.85 347.9v-2.8M265.85 179.1v2.8M271.27 347.9v-2.8M271.27 179.1v2.8M276.69 347.9v-2.8M276.69 179.1v2.8M282.12 347.9v-5M282.12 179.1v5M287.54 347.9v-2.8M287.54 179.1v2.8M292.96 347.9v-2.8M292.96 179.1v2.8M298.38 347.9v-2.8M298.38 179.1v2.8M303.81 347.9v-2.8M303.81 179.1v2.8M309.23 347.9v-5M309.23 179.1v5M314.65 347.9v-2.8M314.65 179.1v2.8M320.08 347.9v-2.8M320.08 179.1v2.8M325.5 347.9v-2.8M325.5 179.1v2.8M330.92 347.9v-2.8M330.92 179.1v2.8M336.35 347.9v-5M336.35 179.1v5M341.77 347.9v-2.8M341.77 179.1v2.8M347.19 347.9v-2.8M347.19 179.1v2.8M352.61 347.9v-2.8M352.61 179.1v2.8M358.04 347.9v-2.8M358.04 179.1v2.8M363.46 347.9v-5M363.46 179.1v5M368.88 347.9v-2.8M368.88 179.1v2.8M374.31 347.9v-2.8M374.31 179.1v2.8M379.73 347.9v-2.8M379.73 179.1v2.8M385.15 347.9v-2.8M385.15 179.1v2.8M390.57 347.9v-5M390.57 179.1v5M396 347.9v-2.8M396 179.1v2.8M401.42 347.9v-2.8M401.42 179.1v2.8M406.84 347.9v-2.8M406.84 179.1v2.8M412.27 347.9v-2.8M412.27 179.1v2.8M417.69 347.9v-5M417.69 179.1v5M423.11 347.9v-2.8M423.11 179.1v2.8M428.54 347.9v-2.8M428.54 179.1v2.8M433.96 347.9v-2.8M433.96 179.1v2.8M439.38 347.9v-2.8M439.38 179.1v2.8M444.8 347.9v-5M444.8 179.1v5M450.23 347.9v-2.8M450.23 179.1v2.8M455.65 347.9v-2.8M455.65 179.1v2.8M255 347.9h5M460.7 347.9h-5M255 339.46h2.8M460.7 339.46h-2.8M255 331.02h2.8M460.7 331.02h-2.8M255 322.58h2.8M460.7 322.58h-2.8M255 314.14h2.8M460.7 314.14h-2.8M255 305.7h5M460.7 305.7h-5M255 297.26h2.8M460.7 297.26h-2.8M255 288.82h2.8M460.7 288.82h-2.8M255 280.38h2.8M460.7 280.38h-2.8M255 271.94h2.8M460.7 271.94h-2.8M255 263.5h5M460.7 263.5h-5M255 255.06h2.8M460.7 255.06h-2.8M255 246.62h2.8M460.7 246.62h-2.8M255 238.18h2.8M460.7 238.18h-2.8M255 229.74h2.8M460.7 229.74h-2.8M255 221.3h5M460.7 221.3h-5M255 212.86h2.8M460.7 212.86h-2.8M255 204.42h2.8M460.7 204.42h-2.8M255 195.98h2.8M460.7 195.98h-2.8M255 187.54h2.8M460.7 187.54h-2.8M255 179.1h5M460.7 179.1h-5" stroke="#000" stroke-width="1.5" fill="none"/>
<rect x="255" y="179.1" width="205.7" height="168.8" stroke="#000" stroke-width="1.4" fill="none"/>
<text transform="translate(264.7 195.5) scale(1 1.12)" font-size="11.2"><tspan font-style="italic">p</tspan><tspan dx="1.0" dy="-3.3" font-size="7">c</tspan><tspan dy="3.3"> = 10 bar</tspan></text>
<path d="M270.7 205.5h26" stroke="#22a45e" stroke-width="1.45"/>
<polygon points="283.7,210.3 279.54,203.1 287.86,203.1" fill="#22a45e"/>
<text transform="translate(298.9 209.1) scale(1 1.12)" font-size="10.5"><tspan font-style="italic">c</tspan><tspan dx="0.3" dy="3.1" font-size="7">1</tspan></text>
<path d="M270.7 221.5h26" stroke="#1a62e2" stroke-width="1.45"/>
<polygon points="283.7,216.7 279.54,223.9 287.86,223.9" fill="#1a62e2"/>
<text transform="translate(298.9 225.1) scale(1 1.12)" font-size="10.5"><tspan font-style="italic">c</tspan><tspan dx="0.3" dy="3.1" font-size="7">2</tspan></text>
<path d="M270.7 237.5h26" stroke="#f23a40" stroke-width="1.45"/>
<circle cx="283.7" cy="237.5" r="3.5" fill="#f23a40"/>
<text transform="translate(298.9 241.1) scale(1 1.12)" font-size="10.5"><tspan font-style="italic">c</tspan><tspan dx="0.3" dy="3.1" font-size="7">3</tspan></text>
<path d="M270.7 253.5h26" stroke="#444444" stroke-width="1.45"/>
<rect x="280.6" y="250.4" width="6.2" height="6.2" fill="#444444"/>
<text transform="translate(298.9 257.1) scale(1 1.12)" font-size="10.5"><tspan font-style="italic">c</tspan><tspan dx="0.3" dy="3.1" font-size="7">4</tspan></text>
<clipPath id="c12"><rect x="475.5" y="179.1" width="205.7" height="168.8"/></clipPath>
<g clip-path="url(#c12)">
<path d="M506.37 290.52L512.42 287.12M520.16 283.41L525.74 281.15M533.17 276.96L553.4 261.85M560.21 256.61L580.59 240.43M587.51 235.33L607.53 221.62M614.85 217.13L634.41 206.48M642.18 202.81L661.32 195.06" stroke="#444444" stroke-width="1.45" fill="none"/>
<rect x="499.51" y="289.52" width="6.2" height="6.2" fill="#444444"/>
<rect x="513.07" y="281.92" width="6.2" height="6.2" fill="#444444"/>
<rect x="526.63" y="276.44" width="6.2" height="6.2" fill="#444444"/>
<rect x="553.75" y="256.18" width="6.2" height="6.2" fill="#444444"/>
<rect x="580.86" y="234.66" width="6.2" height="6.2" fill="#444444"/>
<rect x="607.98" y="216.09" width="6.2" height="6.2" fill="#444444"/>
<rect x="635.09" y="201.32" width="6.2" height="6.2" fill="#444444"/>
<rect x="662.2" y="190.35" width="6.2" height="6.2" fill="#444444"/>
<path d="M506.92 291.58L511.86 289.43M520.38 285.46L525.52 282.9M533.78 278.41L552.8 267.16M560.72 262.11L580.08 248.85M588.01 243.81L607.03 232.55M615.38 228.28L633.88 220.22M642.68 216.95L660.82 211.3" stroke="#f23a40" stroke-width="1.45" fill="none"/>
<circle cx="502.62" cy="293.46" r="3.5" fill="#f23a40"/>
<circle cx="516.17" cy="287.55" r="3.5" fill="#f23a40"/>
<circle cx="529.73" cy="280.8" r="3.5" fill="#f23a40"/>
<circle cx="556.85" cy="264.77" r="3.5" fill="#f23a40"/>
<circle cx="583.96" cy="246.2" r="3.5" fill="#f23a40"/>
<circle cx="611.08" cy="230.16" r="3.5" fill="#f23a40"/>
<circle cx="638.19" cy="218.35" r="3.5" fill="#f23a40"/>
<circle cx="665.3" cy="209.91" r="3.5" fill="#f23a40"/>
<path d="M507.27 293.65L511.51 292.59M520.62 289.63L525.28 287.74M534.11 283.97L552.47 275.68M561.22 271.73L579.58 263.44M588.46 259.79L606.58 253.02M615.7 250.05L633.57 245.04M642.86 242.65L660.63 238.51" stroke="#1a62e2" stroke-width="1.45" fill="none"/>
<polygon points="502.62,290.01 498.46,297.21 506.77,297.21" fill="#1a62e2"/>
<polygon points="516.17,286.63 512.02,293.83 520.33,293.83" fill="#1a62e2"/>
<polygon points="529.73,281.14 525.57,288.34 533.89,288.34" fill="#1a62e2"/>
<polygon points="556.85,268.91 552.69,276.11 561,276.11" fill="#1a62e2"/>
<polygon points="583.96,256.67 579.8,263.87 588.12,263.87" fill="#1a62e2"/>
<polygon points="611.08,246.54 606.92,253.74 615.23,253.74" fill="#1a62e2"/>
<polygon points="638.19,238.94 634.03,246.14 642.35,246.14" fill="#1a62e2"/>
<polygon points="665.3,232.61 661.15,239.81 669.46,239.81" fill="#1a62e2"/>
<path d="M507.3 297.75L511.48 296.84M520.76 294.39L525.15 293.02M534.4 290.5L552.17 286.36M561.43 283.84L579.38 278.25M588.6 275.6L606.43 270.88M615.75 268.56L633.52 264.41M642.94 262.66L660.55 260.19" stroke="#22a45e" stroke-width="1.45" fill="none"/>
<polygon points="502.62,303.57 498.46,296.37 506.77,296.37" fill="#22a45e"/>
<polygon points="516.17,300.62 512.02,293.42 520.33,293.42" fill="#22a45e"/>
<polygon points="529.73,296.4 525.57,289.2 533.89,289.2" fill="#22a45e"/>
<polygon points="556.85,290.07 552.69,282.87 561,282.87" fill="#22a45e"/>
<polygon points="583.96,281.63 579.8,274.43 588.12,274.43" fill="#22a45e"/>
<polygon points="611.08,274.45 606.92,267.25 615.23,267.25" fill="#22a45e"/>
<polygon points="638.19,268.12 634.03,260.92 642.35,260.92" fill="#22a45e"/>
<polygon points="665.3,264.32 661.15,257.12 669.46,257.12" fill="#22a45e"/>
</g>
<path d="M475.5 347.9v-5M475.5 179.1v5M480.92 347.9v-2.8M480.92 179.1v2.8M486.35 347.9v-2.8M486.35 179.1v2.8M491.77 347.9v-2.8M491.77 179.1v2.8M497.19 347.9v-2.8M497.19 179.1v2.8M502.62 347.9v-5M502.62 179.1v5M508.04 347.9v-2.8M508.04 179.1v2.8M513.46 347.9v-2.8M513.46 179.1v2.8M518.88 347.9v-2.8M518.88 179.1v2.8M524.31 347.9v-2.8M524.31 179.1v2.8M529.73 347.9v-5M529.73 179.1v5M535.15 347.9v-2.8M535.15 179.1v2.8M540.58 347.9v-2.8M540.58 179.1v2.8M546 347.9v-2.8M546 179.1v2.8M551.42 347.9v-2.8M551.42 179.1v2.8M556.85 347.9v-5M556.85 179.1v5M562.27 347.9v-2.8M562.27 179.1v2.8M567.69 347.9v-2.8M567.69 179.1v2.8M573.11 347.9v-2.8M573.11 179.1v2.8M578.54 347.9v-2.8M578.54 179.1v2.8M583.96 347.9v-5M583.96 179.1v5M589.38 347.9v-2.8M589.38 179.1v2.8M594.81 347.9v-2.8M594.81 179.1v2.8M600.23 347.9v-2.8M600.23 179.1v2.8M605.65 347.9v-2.8M605.65 179.1v2.8M611.08 347.9v-5M611.08 179.1v5M616.5 347.9v-2.8M616.5 179.1v2.8M621.92 347.9v-2.8M621.92 179.1v2.8M627.34 347.9v-2.8M627.34 179.1v2.8M632.77 347.9v-2.8M632.77 179.1v2.8M638.19 347.9v-5M638.19 179.1v5M643.61 347.9v-2.8M643.61 179.1v2.8M649.04 347.9v-2.8M649.04 179.1v2.8M654.46 347.9v-2.8M654.46 179.1v2.8M659.88 347.9v-2.8M659.88 179.1v2.8M665.3 347.9v-5M665.3 179.1v5M670.73 347.9v-2.8M670.73 179.1v2.8M676.15 347.9v-2.8M676.15 179.1v2.8M475.5 347.9h5M681.2 347.9h-5M475.5 339.46h2.8M681.2 339.46h-2.8M475.5 331.02h2.8M681.2 331.02h-2.8M475.5 322.58h2.8M681.2 322.58h-2.8M475.5 314.14h2.8M681.2 314.14h-2.8M475.5 305.7h5M681.2 305.7h-5M475.5 297.26h2.8M681.2 297.26h-2.8M475.5 288.82h2.8M681.2 288.82h-2.8M475.5 280.38h2.8M681.2 280.38h-2.8M475.5 271.94h2.8M681.2 271.94h-2.8M475.5 263.5h5M681.2 263.5h-5M475.5 255.06h2.8M681.2 255.06h-2.8M475.5 246.62h2.8M681.2 246.62h-2.8M475.5 238.18h2.8M681.2 238.18h-2.8M475.5 229.74h2.8M681.2 229.74h-2.8M475.5 221.3h5M681.2 221.3h-5M475.5 212.86h2.8M681.2 212.86h-2.8M475.5 204.42h2.8M681.2 204.42h-2.8M475.5 195.98h2.8M681.2 195.98h-2.8M475.5 187.54h2.8M681.2 187.54h-2.8M475.5 179.1h5M681.2 179.1h-5" stroke="#000" stroke-width="1.5" fill="none"/>
<rect x="475.5" y="179.1" width="205.7" height="168.8" stroke="#000" stroke-width="1.4" fill="none"/>
<text transform="translate(485.2 195.5) scale(1 1.12)" font-size="11.2"><tspan font-style="italic">p</tspan><tspan dx="1.0" dy="-3.3" font-size="7">c</tspan><tspan dy="3.3"> = 15 bar</tspan></text>
<path d="M491.2 205.5h26" stroke="#22a45e" stroke-width="1.45"/>
<polygon points="504.2,210.3 500.04,203.1 508.36,203.1" fill="#22a45e"/>
<text transform="translate(519.4 209.1) scale(1 1.12)" font-size="10.5"><tspan font-style="italic">c</tspan><tspan dx="0.3" dy="3.1" font-size="7">1</tspan></text>
<path d="M491.2 221.5h26" stroke="#1a62e2" stroke-width="1.45"/>
<polygon points="504.2,216.7 500.04,223.9 508.36,223.9" fill="#1a62e2"/>
<text transform="translate(519.4 225.1) scale(1 1.12)" font-size="10.5"><tspan font-style="italic">c</tspan><tspan dx="0.3" dy="3.1" font-size="7">2</tspan></text>
<path d="M491.2 237.5h26" stroke="#f23a40" stroke-width="1.45"/>
<circle cx="504.2" cy="237.5" r="3.5" fill="#f23a40"/>
<text transform="translate(519.4 241.1) scale(1 1.12)" font-size="10.5"><tspan font-style="italic">c</tspan><tspan dx="0.3" dy="3.1" font-size="7">3</tspan></text>
<path d="M491.2 253.5h26" stroke="#444444" stroke-width="1.45"/>
<rect x="501.1" y="250.4" width="6.2" height="6.2" fill="#444444"/>
<text transform="translate(519.4 257.1) scale(1 1.12)" font-size="10.5"><tspan font-style="italic">c</tspan><tspan dx="0.3" dy="3.1" font-size="7">4</tspan></text>
<g font-size="11"><text transform="translate(29.5 174.8) scale(1 1.12)" text-anchor="end">0</text>
<text transform="translate(29.5 141.02) scale(1 1.12)" text-anchor="end">2</text>
<text transform="translate(29.5 107.24) scale(1 1.12)" text-anchor="end">4</text>
<text transform="translate(29.5 73.46) scale(1 1.12)" text-anchor="end">6</text>
<text transform="translate(29.5 39.68) scale(1 1.12)" text-anchor="end">8</text>
<text transform="translate(686.4 174.8) scale(1 1.12)">0</text>
<text transform="translate(686.4 141.02) scale(1 1.12)">2</text>
<text transform="translate(686.4 107.24) scale(1 1.12)">4</text>
<text transform="translate(686.4 73.46) scale(1 1.12)">6</text>
<text transform="translate(686.4 39.68) scale(1 1.12)">8</text>
<text transform="translate(29.5 351.3) scale(1 1.12)" text-anchor="end">0</text>
<text transform="translate(29.5 309.1) scale(1 1.12)" text-anchor="end">1</text>
<text transform="translate(29.5 266.9) scale(1 1.12)" text-anchor="end">2</text>
<text transform="translate(29.5 224.7) scale(1 1.12)" text-anchor="end">3</text>
<text transform="translate(686.2 351.3) scale(1 1.12)">0.0</text>
<text transform="translate(686.2 309.1) scale(1 1.12)">19.3</text>
<text transform="translate(686.2 266.9) scale(1 1.12)">38.6</text>
<text transform="translate(686.2 224.7) scale(1 1.12)">57.9</text>
<text transform="translate(34.5 362) scale(1 1.12)" text-anchor="middle">0.0</text>
<text transform="translate(61.61 362) scale(1 1.12)" text-anchor="middle">0.5</text>
<text transform="translate(88.73 362) scale(1 1.12)" text-anchor="middle">1.0</text>
<text transform="translate(115.84 362) scale(1 1.12)" text-anchor="middle">1.5</text>
<text transform="translate(142.96 362) scale(1 1.12)" text-anchor="middle">2.0</text>
<text transform="translate(170.07 362) scale(1 1.12)" text-anchor="middle">2.5</text>
<text transform="translate(197.19 362) scale(1 1.12)" text-anchor="middle">3.0</text>
<text transform="translate(224.3 362) scale(1 1.12)" text-anchor="middle">3.5</text>
<text transform="translate(255 362) scale(1 1.12)" text-anchor="middle">0.0</text>
<text transform="translate(282.12 362) scale(1 1.12)" text-anchor="middle">0.5</text>
<text transform="translate(309.23 362) scale(1 1.12)" text-anchor="middle">1.0</text>
<text transform="translate(336.35 362) scale(1 1.12)" text-anchor="middle">1.5</text>
<text transform="translate(363.46 362) scale(1 1.12)" text-anchor="middle">2.0</text>
<text transform="translate(390.57 362) scale(1 1.12)" text-anchor="middle">2.5</text>
<text transform="translate(417.69 362) scale(1 1.12)" text-anchor="middle">3.0</text>
<text transform="translate(444.8 362) scale(1 1.12)" text-anchor="middle">3.5</text>
<text transform="translate(475.5 362) scale(1 1.12)" text-anchor="middle">0.0</text>
<text transform="translate(502.62 362) scale(1 1.12)" text-anchor="middle">0.5</text>
<text transform="translate(529.73 362) scale(1 1.12)" text-anchor="middle">1.0</text>
<text transform="translate(556.85 362) scale(1 1.12)" text-anchor="middle">1.5</text>
<text transform="translate(583.96 362) scale(1 1.12)" text-anchor="middle">2.0</text>
<text transform="translate(611.08 362) scale(1 1.12)" text-anchor="middle">2.5</text>
<text transform="translate(638.19 362) scale(1 1.12)" text-anchor="middle">3.0</text>
<text transform="translate(665.3 362) scale(1 1.12)" text-anchor="middle">3.5</text></g>
<g font-size="13.6"><text x="138.35" y="385.2" text-anchor="middle"><tspan font-style="italic">i</tspan>&#160; /&#160; A cm<tspan dy="-5.6" font-size="9.4">-2</tspan></text>
<text x="358.85" y="385.2" text-anchor="middle"><tspan font-style="italic">i</tspan>&#160; /&#160; A cm<tspan dy="-5.6" font-size="9.4">-2</tspan></text>
<text x="579.35" y="385.2" text-anchor="middle"><tspan font-style="italic">i</tspan>&#160; /&#160; A cm<tspan dy="-5.6" font-size="9.4">-2</tspan></text>
<text transform="translate(15 86.75) scale(1 1.0) rotate(-90)" text-anchor="middle" font-size="14">H<tspan dy="3" font-size="8.2">2</tspan><tspan dy="-3"> in O</tspan><tspan dy="3" font-size="8.2">2</tspan><tspan dy="-3" dx="1.0">&#160; /</tspan><tspan dx="1.2">&#160; %</tspan></text>
<text transform="translate(709.4 86.75) scale(1 1.0) rotate(-90)" text-anchor="middle" font-size="14">H<tspan dy="3" font-size="8.2">2</tspan><tspan dy="-3"> in O</tspan><tspan dy="3" font-size="8.2">2</tspan><tspan dy="-3" dx="1.0">&#160; /</tspan><tspan dx="1.2">&#160; %</tspan></text>
<g transform="translate(13.6 318.6) rotate(-90)"><text x="0" y="0" font-style="italic">N</text><text x="10.2" y="3.6" font-size="8.6">H</text><text x="16.3" y="6.0" font-size="6.2">2</text><text x="12.6" y="-5.2" font-size="8.4">cross</text><text x="28.6" y="0">&#160;/ mmol s<tspan dy="-4.6" font-size="8.6">-1</tspan><tspan dy="4.6"> m</tspan><tspan dy="-4.6" font-size="8.6">-2</tspan></text></g>
<g transform="translate(718.2 297.4) rotate(-90)"><text x="0" y="0" font-style="italic">i</text><text x="3.9" y="2.8" font-size="8.4">H</text><text x="9.9" y="5.0" font-size="6.0">2</text><text x="16.2" y="0">/ mA cm<tspan dy="-4.6" font-size="8.6">-2</tspan></text></g></g>
<g font-size="13"><text transform="translate(9.6 14.3) scale(1 1.12)">a)</text>
<text transform="translate(243.4 14.3) scale(1 1.12)">b)</text>
<text transform="translate(464.5 14.3) scale(1 1.12)">c)</text>
<text transform="translate(9.6 190.2) scale(1 1.12)">d)</text>
<text transform="translate(244.8 190.2) scale(1 1.12)">e)</text>
<text transform="translate(465.7 190.2) scale(1 1.12)">f)</text></g>
</svg>
</body></html>
